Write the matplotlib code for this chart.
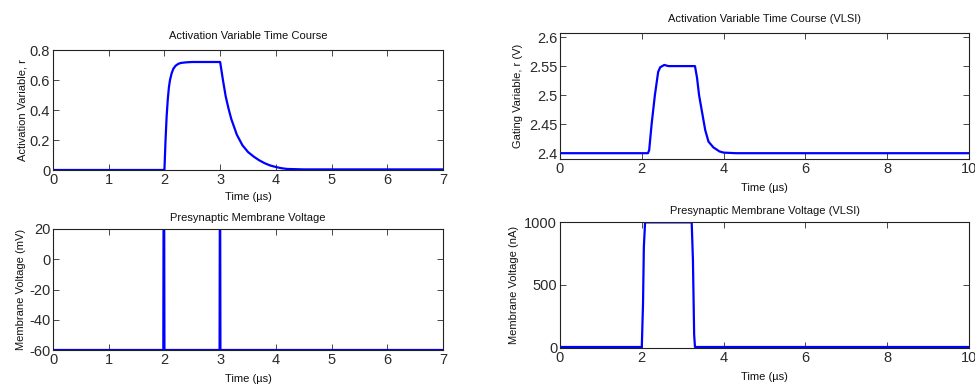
import matplotlib
matplotlib.use("Agg")
import matplotlib.pyplot as plt

plt.rcParams['font.family'] = ['Liberation Sans', 'DejaVu Sans']
plt.rcParams['axes.unicode_minus'] = False

# Top-left: activation variable r
t_r = [0, 1.98, 2.0, 2.02, 2.04, 2.06, 2.08, 2.1, 2.13, 2.16, 2.2, 2.25, 2.3, 2.4, 2.5, 3.0,
       3.05, 3.1, 3.15, 3.2, 3.3, 3.4, 3.5, 3.6, 3.7, 3.8, 3.9, 4.0, 4.1, 4.2, 4.5, 7.0]
r_vals = [0, 0, 0.0, 0.2, 0.36, 0.47, 0.55, 0.6, 0.645, 0.675, 0.695, 0.708, 0.714, 0.718, 0.72, 0.72,
          0.6, 0.49, 0.41, 0.34, 0.235, 0.165, 0.12, 0.09, 0.065, 0.045, 0.03, 0.02, 0.012, 0.007, 0.004, 0.004]

# Top-right: VLSI gating variable
t_g = [0, 2.15, 2.18, 2.24, 2.32, 2.4, 2.45, 2.55, 2.65, 3.0, 3.3, 3.35, 3.4, 3.5, 3.55, 3.63, 3.75, 3.9, 4.0, 4.3, 10.0]
g_vals = [2.4, 2.4, 2.405, 2.45, 2.5, 2.54, 2.548, 2.552, 2.55, 2.55, 2.55, 2.53, 2.5, 2.46, 2.44, 2.42, 2.41, 2.403, 2.401, 2.4, 2.4]

# Bottom-left: presynaptic membrane voltage
t_v = [0, 1.98, 1.985, 1.995, 2.0, 2.99, 2.995, 3.0, 3.005, 7.0]
v_vals = [-60, -60, 40, 40, -60, -60, 40, 40, -60, -60]

# Bottom-right: VLSI presynaptic signal
t_i = [0, 2.0, 2.03, 2.05, 2.08, 2.5, 3.22, 3.25, 3.28, 3.3, 10.0]
i_vals = [0, 0, 350, 800, 1000, 1000, 1000, 700, 100, 0, 0]

W, H = 975, 386
fig = plt.figure(figsize=(W / 100, H / 100), dpi=100)

def add_ax(x0, y0, x1, y1):
    return fig.add_axes([x0 / W, 1 - y1 / H, (x1 - x0) / W, (y1 - y0) / H])

def style(ax):
    ax.tick_params(direction='in', top=True, right=True, length=4, width=0.6,
                   labelsize=10.5, colors='#2a2a2a', pad=2)
    for s in ax.spines.values():
        s.set_linewidth(0.8)
        s.set_color('#222222')

blue = '#0000ff'
lw = 1.6
lab = dict(fontsize=8, color='#111111')

ax1 = add_ax(53, 50, 443, 170)
ax1.plot(t_r, r_vals, color=blue, lw=lw)
ax1.set_xlim(0, 7)
ax1.set_ylim(0, 0.8)
ax1.set_xticks(range(8))
ax1.set_yticks([0, 0.2, 0.4, 0.6, 0.8])
ax1.set_yticklabels(['0', '0.2', '0.4', '0.6', '0.8'])
ax1.set_title('Activation Variable Time Course', pad=8, **lab)
ax1.set_xlabel('Time (µs)', labelpad=4, **lab)
ax1.set_ylabel('Activation Variable, r', labelpad=2, **lab)
style(ax1)

ax2 = add_ax(560, 33, 969, 159)
ax2.plot(t_g, g_vals, color=blue, lw=lw)
ax2.set_xlim(0, 10)
ax2.set_ylim(2.39, 2.607)
ax2.set_xticks([0, 2, 4, 6, 8, 10])
ax2.set_yticks([2.4, 2.45, 2.5, 2.55, 2.6])
ax2.set_yticklabels(['2.4', '2.45', '2.5', '2.55', '2.6'])
ax2.set_title('Activation Variable Time Course (VLSI)', pad=8, **lab)
ax2.set_xlabel('Time (µs)', labelpad=5, **lab)
ax2.set_ylabel('Gating Variable, r (V)', labelpad=4, **lab)
style(ax2)

ax3 = add_ax(53, 229, 443, 350)
ax3.plot(t_v, v_vals, color=blue, lw=lw)
ax3.set_xlim(0, 7)
ax3.set_ylim(-60, 20)
ax3.set_xticks(range(8))
ax3.set_yticks([-60, -40, -20, 0, 20])
ax3.set_title('Presynaptic Membrane Voltage', pad=6, **lab)
ax3.set_xlabel('Time (µs)', labelpad=5, **lab)
ax3.set_ylabel('Membrane Voltage (mV)', labelpad=2, **lab)
style(ax3)

ax4 = add_ax(560, 222, 969, 348)
ax4.plot(t_i, i_vals, color=blue, lw=lw)
ax4.set_xlim(0, 10)
ax4.set_ylim(-8, 1003)
ax4.set_xticks([0, 2, 4, 6, 8, 10])
ax4.set_yticks([0, 500, 1000])
ax4.set_title('Presynaptic Membrane Voltage (VLSI)', pad=6, **lab)
ax4.set_xlabel('Time (µs)', labelpad=5, **lab)
ax4.set_ylabel('Membrane Voltage (nA)', labelpad=4, **lab)
style(ax4)

fig.savefig('out.png', dpi=100)
